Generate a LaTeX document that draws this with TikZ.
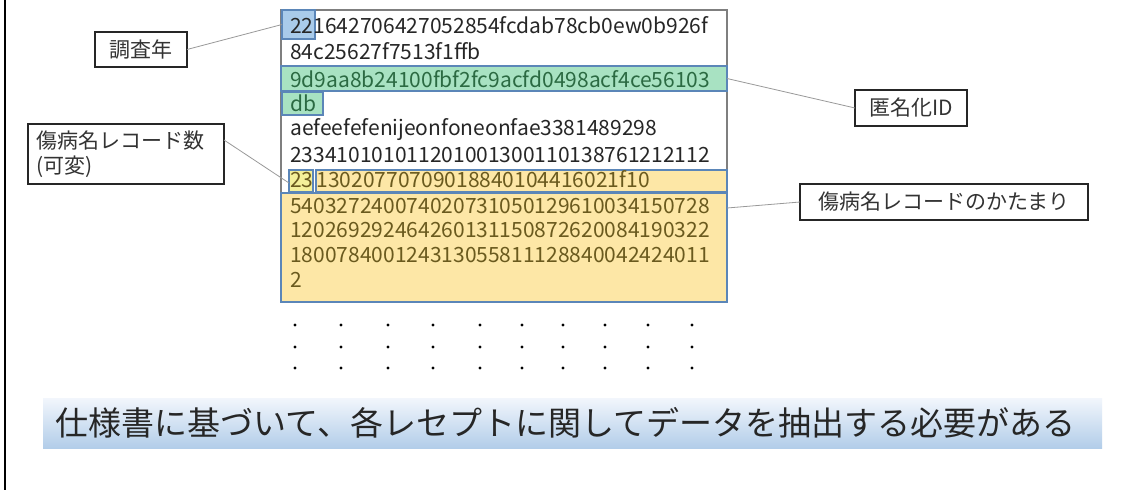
\documentclass[tikz,border=0pt]{standalone}
\usepackage{fontspec}
\setmainfont{Noto Sans CJK JP}
\newfontfamily\datafont{Noto Sans CJK JP}
\usetikzlibrary{calc}
\definecolor{frameGray}{HTML}{7F7F7F}
\definecolor{hlBorder}{HTML}{5B86B8}
\definecolor{blueFill}{HTML}{A9CBEA}
\definecolor{greenFill}{HTML}{A8E2C2}
\definecolor{greenText}{HTML}{2B6A42}
\definecolor{yellowFill}{HTML}{FDE7A6}
\definecolor{lemonFill}{HTML}{F4F09A}
\definecolor{yellowText}{HTML}{6A5A1E}
\definecolor{dataText}{HTML}{262626}
\definecolor{labelText}{HTML}{333333}
\definecolor{bannerTop}{HTML}{F2F6FC}
\definecolor{bannerBot}{HTML}{B2CDE9}
\begin{document}
\begin{tikzpicture}[x=1pt,y=-1pt,
  rectbox/.style={inner sep=0pt, outer sep=0pt, anchor=north west},
  hl/.style={rectbox, draw=hlBorder, line width=1.3pt},
  dtext/.style={inner sep=0pt, anchor=base west, font=\datafont\fontsize{21}{25}\selectfont, text=dataText},
  lbl/.style={rectbox, draw=black!85, line width=1.4pt, font=\fontsize{21}{25}\selectfont, text=labelText},
  lead/.style={draw=gray!80, line width=0.8pt},
  dot/.style={circle, fill=black, inner sep=0pt, minimum size=3.4pt}
]
\useasboundingbox (0,0) rectangle (1129,490);
\fill[white] (0,0) rectangle (1129,490);
% left frame line
\draw[line width=1.6pt] (5,0) -- (5,490);

% main record box
\node[rectbox, draw=frameGray, line width=1.2pt, minimum width=446, minimum height=292, fill=white] (main) at (281,10) {};
% highlights
\node[hl, fill=blueFill, minimum width=33, minimum height=29] (yr) at (282,10) {};
\node[hl, fill=greenFill, minimum width=446, minimum height=25] (idbar) at (281,66) {};
\node[hl, fill=greenFill, minimum width=41, minimum height=23] (idtail) at (282,92) {};
\node[hl, fill=lemonFill, minimum width=24, minimum height=22] (cnt) at (289,170) {};
\node[hl, fill=yellowFill, minimum width=411, minimum height=22] (rec0) at (316,170) {};
\node[hl, fill=yellowFill, minimum width=446, minimum height=109] (recs) at (281,193) {};

% data text
\node[dtext] (t1) at (290,33) {221642706427052854fcdab78cb0ew0b926f};
\node[dtext] (t2) at (290,59) {84c25627f7513f1ffb};
\node[dtext, text=greenText] (t3) at (290,87) {9d9aa8b24100fbf2fc9acfd0498acf4ce56103};
\node[dtext, text=greenText] (t4) at (290,111) {db};
\node[dtext] (t5) at (290,135) {aefeefefenijeonfoneonfae3381489298};
\node[dtext] (t6) at (290,162) {233410101011201001300110138761212112};
\node[dtext, text=yellowText] (t7) at (290,187) {23\hspace{3pt}13020770709018840104416021f10};
\node[dtext, text=yellowText] (t8) at (290,213) {540327240074020731050129610034150728};
\node[dtext, text=yellowText] (t9) at (290,237) {120269292464260131150872620084190322};
\node[dtext, text=yellowText] (t10) at (290,262) {180078400124313055811128840042424011};
\node[dtext, text=yellowText] (t11) at (290,287) {2};

% continuation dots
\foreach \x [count=\i] in {295,341,388,433,480,522,563,605,648,692}{
  \foreach \y [count=\j] in {325,347,368}{
    \node[dot] (d\i-\j) at (\x,\y) {};
  }
}

% labels
\node[lbl, minimum width=92, minimum height=35] (lyear) at (95,32) {調査年};
\node[lbl, minimum width=190, minimum height=60, align=left, text width=180, inner xsep=8pt] (lcount) at (28,124) {傷病名レコード数\\(可変)};
\node[lbl, minimum width=112, minimum height=36] (lid) at (855,90) {匿名化ID};
\node[lbl, minimum width=288, minimum height=36] (lrec) at (800,184) {傷病名レコードのかたまり};

% leader lines
\coordinate (cnt-pt) at ($(cnt.west)+(0,2)$);
\coordinate (recs-pt) at ($(recs.north east)+(0,15)$);
\coordinate (lcount-pt) at ($(lcount.east)+(0,-14)$);
\draw[lead] (lyear.east) -- (yr.west);
\draw[lead] (idbar.east) -- (lid.west);
\draw[lead] (lcount-pt) -- (cnt-pt);
\draw[lead] (recs-pt) -- (lrec.west);

% banner
\node[rectbox, top color=bannerTop, bottom color=bannerBot, minimum width=1059, minimum height=50] (banner) at (43,398) {};
\node[font=\fontsize{33}{36}\selectfont, text=black!85, inner sep=0pt] (btext) at ($(banner.center)+(-7,0)$) {仕様書に基づいて、各レセプトに関してデータを抽出する必要がある};
\end{tikzpicture}
\end{document}
